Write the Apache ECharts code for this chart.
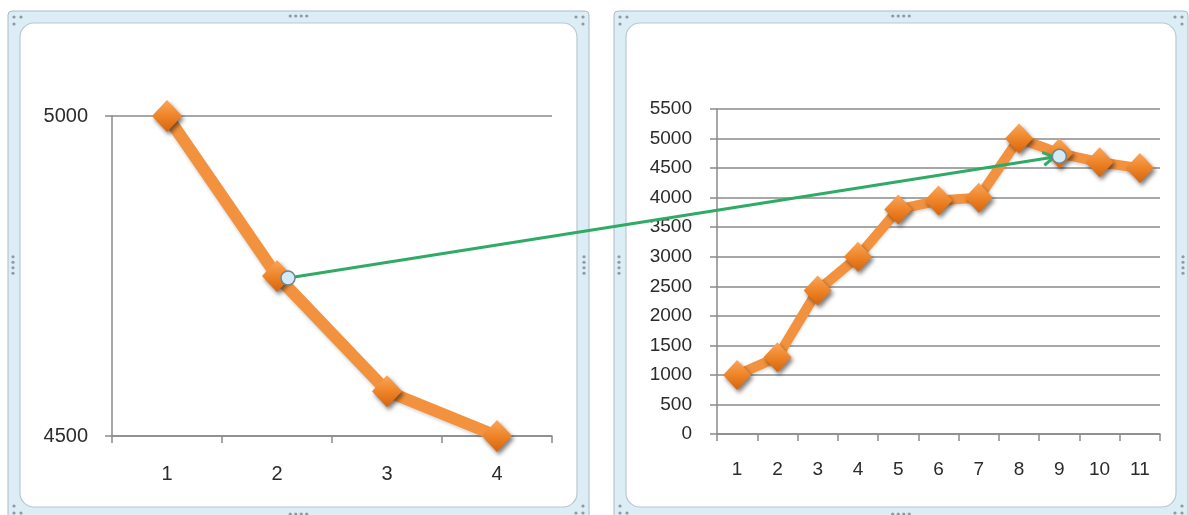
<!DOCTYPE html>
<html>
<head>
<meta charset="utf-8">
<script src="https://cdn.jsdelivr.net/npm/echarts@6/dist/echarts.min.js"></script>
<style>
  html, body { margin: 0; padding: 0; background: #fff; }
  #chart { width: 1189px; height: 515px; }
</style>
</head>
<body>
<div id="chart"></div>
<script>
// left panel: close-up of the last four points
const leftCategories = ['1', '2', '3', '4']
const leftValues = [5000, 4750, 4570, 4500]
const leftMin = 4500
const leftMax = 5000
const leftStep = 500

// right panel: the whole series
const rightCategories = ['1', '2', '3', '4', '5', '6', '7', '8', '9', '10', '11']
const rightValues = [1000, 1300, 2430, 3000, 3800, 3950, 4000, 5000, 4750, 4600, 4500]
const rightMin = 0
const rightMax = 5500
const rightStep = 500

// the green arrow links left point 2 to right point 9
const arrowFromIndex = 1
const arrowToIndex = 8

const FONT = 'Liberation Sans'
const AXIS_GRAY = '#8a8a8a'
const TEXT = '#2b2b2b'
const LINE_ORANGE = '#f3923e'
const GREEN = '#2fab66'

const leftPanel = { x: 8, y: 11, w: 581, h: 508 }
const rightPanel = { x: 614, y: 11, w: 574, h: 508 }

const diamondColor = new echarts.graphic.LinearGradient(0, 0, 0, 1, [
  { offset: 0, color: '#fba65a' },
  { offset: 0.5, color: '#ee8428' },
  { offset: 1, color: '#d6640c' }
])

const xAxisBase = (gridIndex, data, margin, fontSize) => ({
  gridIndex,
  type: 'category',
  data,
  boundaryGap: true,
  axisLine: { lineStyle: { color: AXIS_GRAY, width: 1.5 } },
  axisTick: { show: true, length: 7, lineStyle: { color: AXIS_GRAY, width: 1.5 } },
  axisLabel: { color: TEXT, fontFamily: FONT, fontSize, margin },
  splitLine: { show: false }
})

const yAxisBase = (gridIndex, min, max, interval, margin, fontSize) => ({
  gridIndex,
  type: 'value',
  min,
  max,
  interval,
  axisLine: { show: true, lineStyle: { color: AXIS_GRAY, width: 1.5 } },
  axisTick: { show: true, length: 7, lineStyle: { color: AXIS_GRAY, width: 1.5 } },
  axisLabel: {
    color: TEXT,
    fontFamily: FONT,
    fontSize,
    margin,
    formatter: (v) => String(v)
  },
  splitLine: { show: true, lineStyle: { color: AXIS_GRAY, width: 1.5 } }
})

const lineSeries = (idx, data, lineWidth, symbolSize) => ({
  type: 'line',
  xAxisIndex: idx,
  yAxisIndex: idx,
  data,
  symbol: 'diamond',
  symbolSize,
  showAllSymbol: true,
  animation: false,
  lineStyle: {
    color: LINE_ORANGE,
    width: lineWidth,
    shadowColor: 'rgba(0, 0, 0, 0.15)',
    shadowBlur: 3,
    shadowOffsetY: 2
  },
  itemStyle: {
    color: diamondColor,
    borderWidth: 0,
    shadowColor: 'rgba(0, 0, 0, 0.5)',
    shadowBlur: 4,
    shadowOffsetX: 2,
    shadowOffsetY: 3
  }
})

const chart = echarts.init(document.getElementById('chart'), undefined, { renderer: 'canvas' })

chart.setOption({
  backgroundColor: '#fff',
  animation: false,
  grid: [
    { left: 112, top: 116, width: 440, height: 320 },
    { left: 717, top: 109, width: 443, height: 325 }
  ],
  xAxis: [
    xAxisBase(0, leftCategories, 28, 20),
    xAxisBase(1, rightCategories, 26, 19)
  ],
  yAxis: [
    yAxisBase(0, leftMin, leftMax, leftStep, 24, 20),
    yAxisBase(1, rightMin, rightMax, rightStep, 25, 19)
  ],
  series: [
    lineSeries(0, leftValues, 12, [30, 32]),
    lineSeries(1, rightValues, 10, [28, 30])
  ]
})

// Excel-style selection frame round each chart
const panelFrame = (p, id) => {
  const band = 12
  const dot = '#8d9ba4'
  const els = [
    {
      type: 'rect',
      id: id + '-outer',
      z: -20,
      silent: true,
      shape: { x: p.x, y: p.y, width: p.w, height: p.h, r: 4 },
      style: { fill: '#dcedf5', stroke: '#a9bcc7', lineWidth: 1 }
    },
    {
      type: 'rect',
      id: id + '-inner',
      z: -19,
      silent: true,
      shape: { x: p.x + band, y: p.y + band, width: p.w - band * 2, height: p.h - band * 2, r: 14 },
      style: { fill: '#fff', stroke: '#b7c8d1', lineWidth: 1.2 }
    }
  ]
  const right = p.x + p.w
  const bottom = p.y + p.h
  const pts = [
    [p.x + 6, p.y + 6], [p.x + 13, p.y + 6], [p.x + 6, p.y + 13],
    [right - 13, p.y + 6], [right - 6, p.y + 6], [right - 6, p.y + 13],
    [p.x + 6, bottom - 6], [p.x + 13, bottom - 6], [p.x + 6, bottom - 13],
    [right - 13, bottom - 6], [right - 6, bottom - 6], [right - 6, bottom - 13]
  ]
  const cx = p.x + p.w / 2
  const cy = p.y + p.h / 2
  ;[-8.25, -2.75, 2.75, 8.25].forEach((d) => {
    pts.push([cx + d, p.y + 5])
    pts.push([cx + d, bottom - 5])
    pts.push([p.x + 5, cy + d])
    pts.push([right - 5, cy + d])
  })
  pts.forEach((pt, i) => {
    els.push({
      type: 'circle',
      id: id + '-dot' + i,
      z: -18,
      silent: true,
      shape: { cx: pt[0], cy: pt[1], r: 1.6 },
      style: { fill: dot }
    })
  })
  return els
}

// arrow joining the two matching points, placed from the axes
const from = chart.convertToPixel({ gridIndex: 0 }, [arrowFromIndex, leftValues[arrowFromIndex]])
const to = chart.convertToPixel({ gridIndex: 1 }, [arrowToIndex, rightValues[arrowToIndex]])
const start = [from[0] + 11, from[1] + 2]
const end = [to[0], to[1] + 3]
const dx = end[0] - start[0]
const dy = end[1] - start[1]
const len = Math.sqrt(dx * dx + dy * dy)
const ux = dx / len
const uy = dy / len
const tip = [end[0] - ux * 5, end[1] - uy * 5]
const headLen = 13
const spread = Math.PI / 6
const rot = (a) => [
  tip[0] - headLen * (ux * Math.cos(a) - uy * Math.sin(a)),
  tip[1] - headLen * (uy * Math.cos(a) + ux * Math.sin(a))
]

const connectorEls = [
  {
    type: 'line',
    id: 'arrow-shaft',
    z: 100,
    silent: true,
    shape: { x1: start[0], y1: start[1], x2: tip[0], y2: tip[1] },
    style: { stroke: GREEN, lineWidth: 3 }
  },
  {
    type: 'polyline',
    id: 'arrow-head',
    z: 100,
    silent: true,
    shape: { points: [rot(spread), tip, rot(-spread)] },
    style: { stroke: GREEN, lineWidth: 3, fill: null }
  },
  {
    type: 'circle',
    id: 'handle-start',
    z: 101,
    silent: true,
    shape: { cx: start[0], cy: start[1], r: 7 },
    style: { fill: '#d3ebf7', stroke: '#6f8592', lineWidth: 1.5 }
  },
  {
    type: 'circle',
    id: 'handle-end',
    z: 101,
    silent: true,
    shape: { cx: end[0], cy: end[1], r: 7 },
    style: { fill: '#d3ebf7', stroke: '#6f8592', lineWidth: 1.5 }
  }
]

chart.setOption({
  graphic: [...panelFrame(leftPanel, 'left'), ...panelFrame(rightPanel, 'right'), ...connectorEls]
})
</script>
</body>
</html>
